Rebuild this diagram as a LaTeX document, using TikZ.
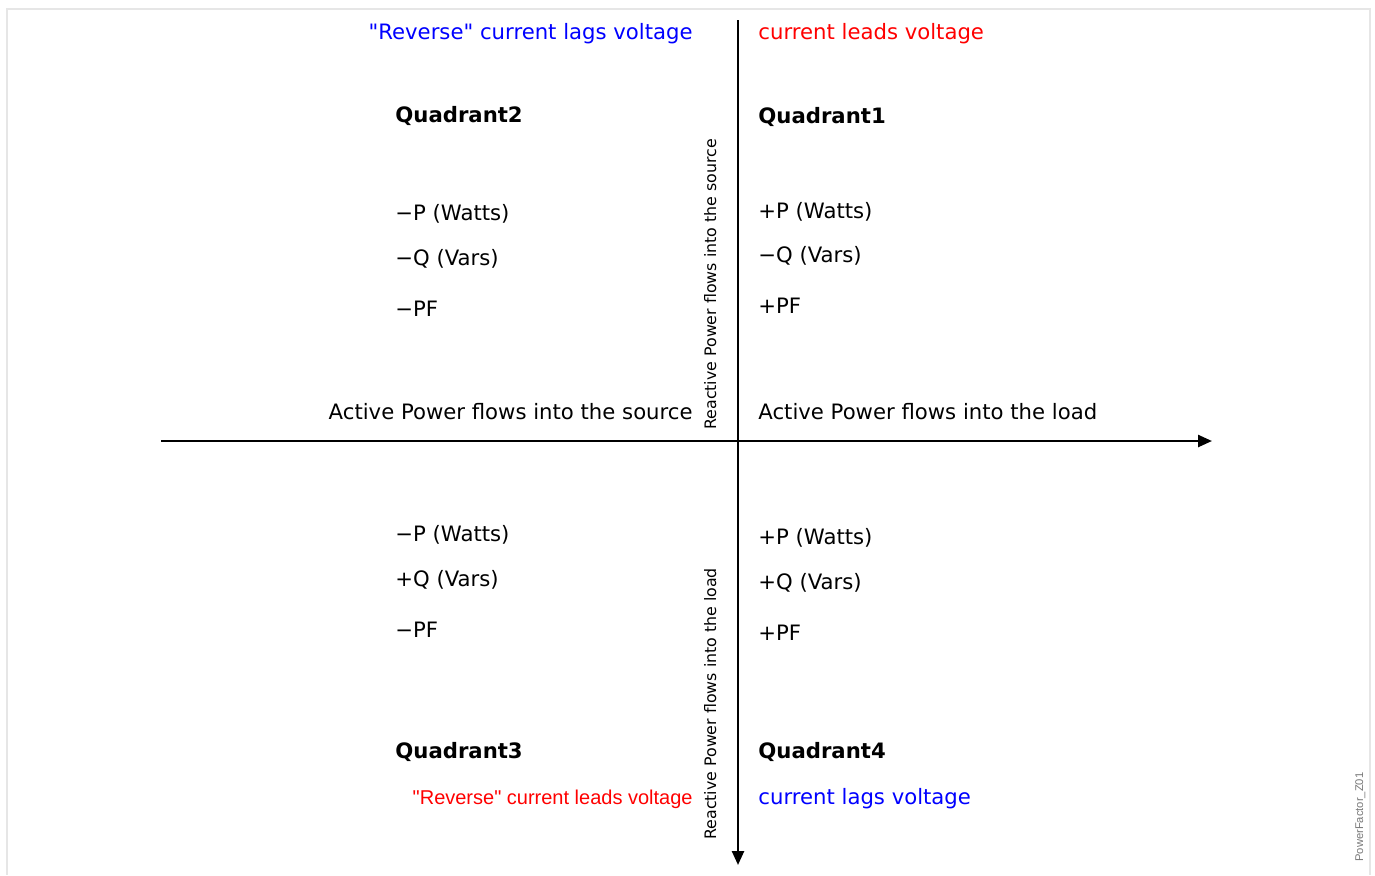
\documentclass[tikz,border=0pt]{standalone}
\usepackage{fontspec}
\setmainfont{DejaVu Sans}
\newfontfamily\plainsans{DejaVu Sans}
\newfontfamily\arialfont{Liberation Sans}
\usetikzlibrary{positioning,arrows.meta}
\definecolor{LagBlue}{RGB}{0,0,255}
\definecolor{LeadRed}{RGB}{255,0,0}
\definecolor{FrameGray}{RGB}{230,230,230}
\definecolor{TagGray}{RGB}{120,120,120}
\newcommand{\qmark}{\symbol{34}}
\tikzset{
  axis/.style={-{Triangle[length=7pt,width=6pt]},line width=1.2pt,draw=black},
  frame/.style={line width=1pt,draw=FrameGray},
  txt/.style={inner sep=0pt,font=\plainsans\fontsize{10.6}{12.7}\selectfont},
  quad/.style={inner sep=0pt,font=\plainsans\fontsize{10.6}{12.7}\selectfont\bfseries},
  vtxt/.style={inner sep=0pt,rotate=90,font=\plainsans\fontsize{7.9}{9.5}\selectfont},
  lagtxt/.style={txt,text=LagBlue},
  leadtxt/.style={txt,text=LeadRed},
  revlead/.style={inner sep=0pt,text=LeadRed,font=\arialfont\fontsize{10}{12}\selectfont},
  tag/.style={inner sep=0pt,rotate=90,text=TagGray,font=\arialfont\fontsize{5.6}{6.7}\selectfont}
}
\begin{document}
\begin{tikzpicture}[x=0.5pt,y=-0.5pt]
  \useasboundingbox (0,0) rectangle (1375,875);
  \draw[frame] (7,875) -- (7,9) -- (1370,9) -- (1370,875);
  % axes
  \coordinate (xstart) at (161,441);
  \coordinate (xend) at (1212,441);
  \coordinate (ystart) at (738,20);
  \coordinate (yend) at (738,865);
  \draw[axis] (xstart) -- (xend);
  \draw[axis] (ystart) -- (yend);
  % top row
  \node[lagtxt,anchor=base east] (revlag) at (693,39) {\qmark Reverse\qmark{} current lags voltage};
  \node[leadtxt,anchor=base west] (lead) at (758,39) {current leads voltage};
  % quadrant 2
  \node[quad,anchor=base west] (q2) at (395,122) {Quadrant2};
  \node[txt,anchor=base west] (q2p) at (395,220) {−P (Watts)};
  \node[txt,anchor=base west] (q2q) at (395,265) {−Q (Vars)};
  \node[txt,anchor=base west] (q2pf) at (395,316) {−PF};
  % quadrant 1
  \node[quad,anchor=base west] (q1) at (758,123) {Quadrant1};
  \node[txt,anchor=base west] (q1p) at (758,218) {+P (Watts)};
  \node[txt,anchor=base west] (q1q) at (758,262) {−Q (Vars)};
  \node[txt,anchor=base west] (q1pf) at (758,313) {+PF};
  % active power
  \node[txt,anchor=base east] (psource) at (693,419) {Active Power flows into the source};
  \node[txt,anchor=base west] (pload) at (758,419) {Active Power flows into the load};
  % quadrant 3
  \node[txt,anchor=base west] (q3p) at (395,541) {−P (Watts)};
  \node[txt,anchor=base west] (q3q) at (395,586) {+Q (Vars)};
  \node[txt,anchor=base west] (q3pf) at (395,637) {−PF};
  \node[quad,anchor=base west] (q3) at (395,758) {Quadrant3};
  % quadrant 4
  \node[txt,anchor=base west] (q4p) at (758,544) {+P (Watts)};
  \node[txt,anchor=base west] (q4q) at (758,589) {+Q (Vars)};
  \node[txt,anchor=base west] (q4pf) at (758,640) {+PF};
  \node[quad,anchor=base west] (q4) at (758,758) {Quadrant4};
  % bottom row
  \node[revlead,anchor=base east] (revlead) at (693,804) {\qmark Reverse\qmark{} current leads voltage};
  \node[lagtxt,anchor=base west] (lag) at (758,804) {current lags voltage};
  % reactive power
  \node[vtxt,anchor=base west] (qsource) at (716,430) {Reactive Power flows into the source};
  \node[vtxt,anchor=base west] (qload) at (716,840) {Reactive Power flows into the load};
  \node[tag,anchor=base west] (figtag) at (1363,862) {PowerFactor\_Z01};
\end{tikzpicture}
\end{document}
